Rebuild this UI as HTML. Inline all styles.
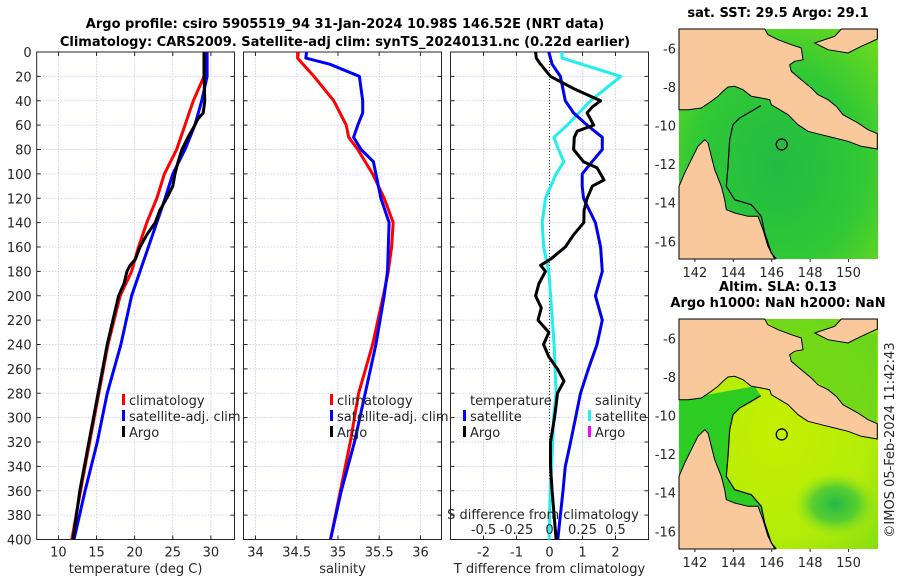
<!DOCTYPE html>
<html><head><meta charset="utf-8"><style>
html,body{margin:0;padding:0;background:#fff;}
svg{display:block;font-family:"DejaVu Sans","Liberation Sans",sans-serif;}
.t{font-size:13px;fill:#262626;}
.b{font-size:13px;font-weight:bold;fill:#000;}
</style></head><body>
<svg id="chart" width="900" height="580" viewBox="0 0 900 580">
<text class="b" x="345" y="28" text-anchor="middle">Argo profile: csiro 5905519_94 31-Jan-2024 10.98S 146.52E (NRT data)</text>
<text class="b" x="345" y="46" text-anchor="middle">Climatology: CARS2009. Satellite-adj clim: synTS_20240131.nc (0.22d earlier)</text>
<g id="panels"></g>
<g id="maps"></g>
<text class="t" transform="translate(894,440) rotate(-90)" text-anchor="middle">©IMOS 05-Feb-2024 11:42:43</text>
</svg>
<script>
// ---- data ----
const depthTicks=[0,20,40,60,80,100,120,140,160,180,200,220,240,260,280,300,320,340,360,380,400];
const tempTicks=[10,15,20,25,30];
const salTicks=[34,34.5,35,35.5,36];
const salTickLabels=["34","34.5","35","35.5","36"];
const dTTicks=[-2,-1,0,1,2];
const dSTicks=[-0.5,-0.25,0,0.25,0.5];
const dSTickLabels=["-0.5","-0.25","0","0.25","0.5"];

const climTDepth=[0,20,40,60,80,100,120,140,160,180,200,240,280,320,360,400];
const climT=[29.4,29.1,27.7,26.6,25.5,23.9,22.9,21.6,20.5,19.6,18.1,16.5,15.3,14.1,12.9,11.75];
const satT=[29.5,29.5,28.8,27.9,26.6,25.0,24.0,22.9,21.8,20.7,19.6,18.2,16.4,15.1,13.5,12.05];
const argoTDepth=[0,20,40,50,55,60,70,80,90,100,110,120,130,140,150,160,170,175,180,190,200,240,280,320,360,400];
const argoT=[29.1,29.1,29.2,29.0,28.3,27.9,27.0,26.2,25.7,25.3,25.0,24.2,23.3,22.7,21.6,20.7,20.1,19.4,19.0,18.6,17.9,16.4,15.2,14.0,12.8,11.9];

const climSDepth=[0,5,20,40,60,70,80,100,120,140,160,180,200,240,280,320,360,400];
const climS=[34.52,34.51,34.71,34.95,35.10,35.13,35.24,35.42,35.56,35.67,35.65,35.61,35.55,35.42,35.25,35.15,35.03,34.91];
const satSDepth=[0,5,10,20,40,50,60,70,80,90,100,120,140,160,180,200,240,280,320,360,400];
const satS=[34.62,34.61,34.9,35.26,35.30,35.30,35.24,35.19,35.28,35.43,35.46,35.52,35.62,35.61,35.60,35.56,35.46,35.33,35.2,35.04,34.91];

const satTdDepth=[0,10,20,40,50,60,70,80,90,100,110,120,140,160,180,200,220,240,260,280,300,320,340,360,380,400];
const satTdiff=[-0.02,0.08,0.33,0.48,0.73,1.14,1.6,1.6,1.29,0.99,0.99,1.03,1.39,1.55,1.6,1.39,1.6,1.44,1.18,0.94,0.79,0.64,0.48,0.41,0.33,0.25];
const argoTdDepth=[0,5,10,20,30,40,45,50,60,65,70,80,90,95,100,105,110,120,130,140,150,160,170,175,180,190,200,210,220,230,240,250,260,270,280,290,300,320,340,360,380,400];
const argoTdiff=[-0.42,-0.4,-0.27,0.03,0.73,1.55,1.3,1.14,1.34,0.84,0.75,0.73,1.03,1.44,1.55,1.65,1.3,1.14,1.05,1.04,0.73,0.48,0.03,-0.27,-0.12,-0.32,-0.42,-0.25,-0.35,-0.02,-0.18,-0.02,0.24,0.44,0.24,0.2,0.15,0.03,0.03,0.08,0.14,0.2];
const satSdDepth=[0,5,20,40,60,70,80,90,100,120,140,160,180,200,240,280,300,320,340,360,380,400];
const satSdiff=[0.095,0.095,0.54,0.31,0.135,0.033,0.068,0.108,0.05,-0.03,-0.055,-0.045,-0.005,0.008,0.035,0.05,0.03,0.025,0.015,0.005,0,-0.003];

// ---- helpers ----
const NS="http://www.w3.org/2000/svg";
function mk(tag,attrs,parent){const e=document.createElementNS(NS,tag);for(const k in attrs)e.setAttribute(k,attrs[k]);parent.appendChild(e);return e;}
const TOP=52,BOT=539.5;
const yD=d=>TOP+(BOT-TOP)*d/400;
const G=document.getElementById('panels');

function panel(name,x0,x1,xmin,xmax,ticks,labels,yLabels,xTitle){
  const g=mk('g',{},G);
  
  
  const xs=v=>x0+(x1-x0)*(v-xmin)/(xmax-xmin);
  ticks.forEach(v=>{const l=mk('line',{x1:xs(v),x2:xs(v),y1:TOP,y2:BOT,stroke:'#c4c8ec','stroke-width':0.8,'stroke-dasharray':'1.5,1.5'},g);
    });
  depthTicks.forEach(d=>{if(d===0||d===400)return;const l=mk('line',{x1:x0,x2:x1,y1:yD(d),y2:yD(d),stroke:'#c4c8ec','stroke-width':0.8,'stroke-dasharray':'1.5,1.5'},g);
    });
  depthTicks.forEach(d=>{mk('line',{x1:x0,x2:x0+4,y1:yD(d),y2:yD(d),stroke:'#262626'},g);mk('line',{x1:x1-4,x2:x1,y1:yD(d),y2:yD(d),stroke:'#262626'},g);
    if(yLabels){const t=mk('text',{x:x0-5,y:yD(d)+5,'text-anchor':'end',class:'t'},g);t.textContent=d;
      }});
  ticks.forEach((v,i)=>{mk('line',{x1:xs(v),x2:xs(v),y1:BOT,y2:BOT-4,stroke:'#262626'},g);mk('line',{x1:xs(v),x2:xs(v),y1:TOP,y2:TOP+4,stroke:'#262626'},g);
    const t=mk('text',{x:xs(v),y:BOT+17,'text-anchor':'middle',class:'t'},g);t.textContent=labels[i];
    });
  const r=mk('rect',{x:x0,y:TOP,width:x1-x0,height:BOT-TOP,fill:'none',stroke:'#262626','stroke-width':1},g);
  
  const tt=mk('text',{x:(x0+x1)/2,y:573,'text-anchor':'middle',class:'t'},g);tt.textContent=xTitle;
  
  return {g,xs};
}
function line(p,xs,vals,depths,color,name){
  const pts=vals.map((v,i)=>xs(v).toFixed(1)+','+yD(depths[i]).toFixed(1)).join(' ');
  const pl=mk('polyline',{points:pts,fill:'none',stroke:color,'stroke-width':3,'stroke-linejoin':'round'},p);
  
  
}
function legend(p,x,y,color,label,name){
  if(color){mk('rect',{x:x,y:y-11,width:3,height:11,fill:color},p);}
  const t=mk('text',{x:x+7,y:y,class:'t'},p);t.textContent=label;
  
  
}

// Panel 1 temperature
const P1=panel('temperature-panel',36.7,234.5,7.15,33.1,tempTicks,tempTicks.map(String),true,'temperature (deg C)');
line(P1.g,P1.xs,climT,climTDepth,'#ff0000','climatology-temp-line');
line(P1.g,P1.xs,satT,climTDepth,'#0000ff','satellite-temp-line');
line(P1.g,P1.xs,argoT,argoTDepth,'#000000','argo-temp-line');
legend(P1.g,122,405,'#ff0000','climatology','legend-climatology');
legend(P1.g,122,421,'#0000ff','satellite-adj. clim','legend-satellite');
legend(P1.g,122,437,'#000000','Argo','legend-argo');

// Panel 2 salinity
const P2=panel('salinity-panel',243.5,441.5,33.855,36.255,salTicks,salTickLabels,false,'salinity');
line(P2.g,P2.xs,climS,climSDepth,'#ff0000','climatology-sal-line');
line(P2.g,P2.xs,satS,satSDepth,'#0000ff','satellite-sal-line');
legend(P2.g,330,405,'#ff0000','climatology','legend-climatology-sal');
legend(P2.g,330,421,'#0000ff','satellite-adj. clim','legend-satellite-sal');
legend(P2.g,330,437,'#000000','Argo','legend-argo-sal');

// Panel 3 differences
const P3=panel('difference-panel',450.5,648.5,-3,3,dTTicks,dTTicks.map(String),false,'T difference from climatology');
const zl=mk('line',{x1:P3.xs(0),x2:P3.xs(0),y1:TOP,y2:BOT,stroke:'#333','stroke-width':1,'stroke-dasharray':'1,2'},P3.g);

const xsS=v=>P3.xs(v*4);
line(P3.g,xsS,satSdiff,satSdDepth,'#22eeee','salinity-satellite-diff-line');
line(P3.g,P3.xs,satTdiff,satTdDepth,'#0000ee','temperature-satellite-diff-line');
line(P3.g,P3.xs,argoTdiff,argoTdDepth,'#000000','temperature-argo-diff-line');
legend(P3.g,463,405,null,'temperature','legend-temperature-header');
legend(P3.g,463,421,'#0000ff','satellite','legend-temp-satellite');
legend(P3.g,463,437,'#000000','Argo','legend-temp-argo');
legend(P3.g,588,405,null,'salinity','legend-salinity-header');
legend(P3.g,588,421,'#22eeee','satellite','legend-sal-satellite');
legend(P3.g,588,437,'#ff00ff','Argo','legend-sal-argo');
dSTicks.forEach((v,i)=>{const t=mk('text',{x:xsS(v),y:534,'text-anchor':'middle',class:'t'},P3.g);t.textContent=dSTickLabels[i];
  });
const st=mk('text',{x:543,y:519,'text-anchor':'middle',class:'t'},P3.g);st.textContent='S difference from climatology';


// ---- maps ----
const lonTicks=[142,144,146,148,150];
const latTicks=[-6,-8,-10,-12,-14,-16];
const argoLon=146.52, argoLat=-10.98;
const M=document.getElementById('maps');
const pngLand=[[73,88],[330,88],[340,105],[370,120],[410,135],[440,145],[445,180],[420,185],[405,195],[410,215],[440,240],[470,265],[490,285],[520,300],[545,320],[565,345],[610,370],[640,390],[668,402],[668,448],[620,440],[580,425],[540,415],[500,405],[460,395],[430,375],[400,345],[375,330],[350,315],[345,300],[320,295],[290,290],[265,270],[240,260],[220,262],[205,275],[190,290],[170,305],[140,325],[100,330],[73,330]];
const nbLand=[[560,88],[668,88],[668,118],[620,140],[580,160],[520,150],[480,130],[540,110]];
const capeLand=[[73,560],[90,520],[110,480],[130,440],[150,420],[160,430],[170,470],[180,510],[200,560],[210,600],[215,630],[240,640],[280,650],[310,650],[325,690],[340,740],[360,778],[73,778]];
const isobath=[[318,318],[290,335],[255,355],[235,375],[225,420],[220,500],[215,560],[240,600],[290,615],[320,650],[330,700],[350,760],[365,778]];
function drawMap(name,oy,title1,title2,mode){
  const g=mk('g',{},M);
  
  
  const X0=679,X1=878,Y0=oy,Y1=oy+230;
  const lx=lon=>X0+(lon-141.17)*19.2;
  const ly=lat=>Y0+(-5.0-lat)*19.3;
  const cv=([zx,zy])=>(X0+(zx-73)/3).toFixed(1)+','+(Y0+(zy-88)/3).toFixed(1);
  const id=name+'-grad';
  const defs=mk('defs',{},g);
  if(mode===1){
    const rg=mk('radialGradient',{id:id,cx:'0.5',cy:'0.6',r:'0.7'},defs);
    mk('stop',{offset:'0','stop-color':'#22bb44'},rg);mk('stop',{offset:'0.6','stop-color':'#30c835'},rg);mk('stop',{offset:'1','stop-color':'#66d820'},rg);
  } else {
    const rg=mk('radialGradient',{id:id,cx:'0.5',cy:'0.5',r:'0.75'},defs);
    mk('stop',{offset:'0','stop-color':'#c4f000'},rg);mk('stop',{offset:'0.6','stop-color':'#b4ec08'},rg);mk('stop',{offset:'1','stop-color':'#7cdc14'},rg);
    const rg2=mk('radialGradient',{id:id+'2'},defs);
    mk('stop',{offset:'0','stop-color':'#22b84a','stop-opacity':'1'},rg2);mk('stop',{offset:'0.55','stop-color':'#44c838','stop-opacity':'0.8'},rg2);mk('stop',{offset:'1','stop-color':'#88dd20','stop-opacity':'0'},rg2);
  }
  mk('rect',{x:X0,y:Y0,width:X1-X0,height:Y1-Y0,fill:`url(#${id})`},g);
  if(mode===2){
    mk('polygon',{points:[[73,330],[300,290],[318,318],[290,335],[255,355],[235,375],[225,420],[220,500],[215,560],[240,600],[290,615],[320,650],[330,700],[350,760],[365,778],[73,778]].map(cv).join(' '),fill:'#2ccc22'},g);
    mk('ellipse',{cx:lx(149.3),cy:ly(-14.6),rx:42,ry:32,fill:`url(#${id}2)`},g);
    mk('polygon',{points:[[330,88],[560,88],[540,110],[480,130],[520,150],[668,130],[668,402],[610,370],[565,345],[520,300],[470,265],[410,215],[405,195],[445,180],[440,145],[370,120]].map(cv).join(' '),fill:'#5cd21e',opacity:0.75},g);
  }
  const land=[pngLand,nbLand,capeLand];
  land.forEach((poly,i)=>{const p=mk('polygon',{points:poly.map(cv).join(' '),fill:'#f9c99b',stroke:'#000','stroke-width':1},g);
    });
  mk('polyline',{points:isobath.map(cv).join(' '),fill:'none',stroke:'#000','stroke-width':1.2},g);
  const c=mk('circle',{cx:lx(argoLon),cy:ly(argoLat),r:5.5,fill:'none',stroke:'#000','stroke-width':1.3},g);
  
  lonTicks.forEach(v=>{const t=mk('text',{x:lx(v),y:Y1+18,'text-anchor':'middle',class:'t'},g);t.textContent=v;
    
    mk('line',{x1:lx(v),x2:lx(v),y1:Y1,y2:Y1+3,stroke:'#262626'},g);});
  latTicks.forEach(v=>{const t=mk('text',{x:X0-3,y:ly(v)+5,'text-anchor':'end',class:'t'},g);t.textContent=v;
    });
  const t1=mk('text',{x:778,y:oy-12-(title2?16:0),'text-anchor':'middle',class:'b'},g);t1.textContent=title1;
  
  if(title2){const t2=mk('text',{x:778,y:oy-12,'text-anchor':'middle',class:'b'},g);t2.textContent=title2;
    }
}
drawMap('sst-map',29,'sat. SST: 29.5 Argo: 29.1',null,1);
drawMap('sla-map',319,'Altim. SLA: 0.13','Argo h1000: NaN h2000: NaN',2);
</script>
</body></html>
